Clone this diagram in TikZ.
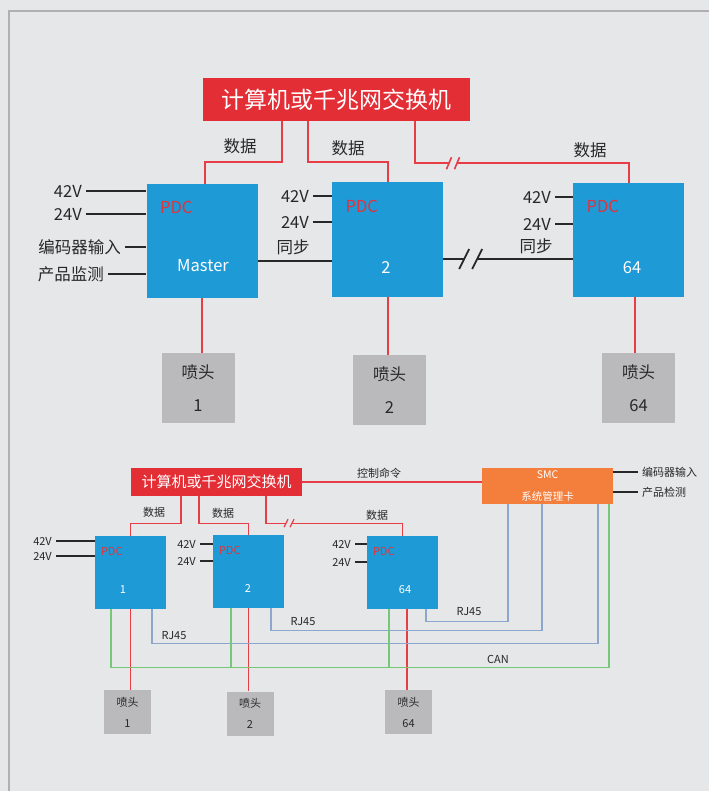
\documentclass[tikz,border=0pt]{standalone}
\usepackage{fontspec}
\setmainfont{Noto Sans CJK SC}
\definecolor{bg}{RGB}{230,231,233}
\definecolor{framegrey}{RGB}{176,176,178}
\definecolor{hostred}{RGB}{227,46,54}
\definecolor{linered}{RGB}{232,60,70}
\definecolor{pdcblue}{RGB}{30,154,214}
\definecolor{pdcred}{RGB}{222,52,62}
\definecolor{smcorange}{RGB}{244,126,60}
\definecolor{nozgrey}{RGB}{186,186,189}
\definecolor{txtdark}{RGB}{40,40,40}
\definecolor{rjblue}{RGB}{140,166,206}
\definecolor{cangreen}{RGB}{118,200,118}
\newcommand\topfont{\fontsize{16.5}{20}\selectfont}
\newcommand\smallfont{\fontsize{11}{13}\selectfont}

\begin{document}
\begin{tikzpicture}[x=1pt,y=-1pt,
        host/.style={fill=hostred,text=white,inner sep=0},
        pdc/.style={fill=pdcblue,inner sep=0},
        smcbox/.style={fill=smcorange,text=white,inner sep=0,align=center},
        nozzle/.style={fill=nozgrey,text=txtdark,inner sep=0,align=center},
        lbl/.style={text=txtdark,inner xsep=4,inner ysep=1},
        pdclbl/.style={text=pdcred,inner sep=0},
        numlbl/.style={text=white,inner sep=0},
        dataline/.style={draw=linered,line width=2},
        wire/.style={draw=txtdark,line width=1.8},
        thinred/.style={draw=linered,line width=1.4},
        rj/.style={draw=rjblue,line width=1.3},
        can/.style={draw=cangreen,line width=1.3},
    ]
    \useasboundingbox[fill=bg] (0,0) rectangle (709,791);
    \draw[framegrey,line width=2.2] (9,791) -- (9,11) -- (709,11); % frame

    % upper diagram
    \node[host,minimum width=267,minimum height=43,font=\fontsize{23}{28}\selectfont] (host) at (336.5,99.5) {计算机或千兆网交换机};
    \foreach \name/\x/\y/\num/\dx/\dy in {master/202/241/Master/1/25, pdcb/387.5/239.5/2/-1.5/28.5, pdcc/628.5/240/64/3.5/28} {
        \node[pdc,minimum width=111,minimum height=114] (\name) at (\x,\y) {};
        \node[pdclbl,font=\topfont] (\name-pdc) at ([shift={(30,24)}]\name.north west) {PDC};
        \node[numlbl,font=\topfont] (\name-num) at ([shift={(\dx,\dy)}]\name.center) {\num};
    }
    \foreach \name/\x/\y/\num in {nza/198/388/1, nzb/389.5/390/2, nzc/638.5/388/64}
        \node[nozzle,minimum width=73,minimum height=70,font=\fontsize{16.5}{33}\selectfont] (\name) at (\x,\y) {喷头\\\num};

    % data links
    \draw[dataline] ([xshift=-54.5pt]host.south) -- ++(0,41) -| ([xshift=3pt]master.north);
    \draw[dataline] ([xshift=-28.5pt]host.south) -- ++(0,41) -| (pdcb.north);
    \draw[dataline] ([xshift=78.5pt]host.south) -- ++(0,42) -- ++(34,0) coordinate (brka)
        ++(8,0) coordinate (brkb) -| (pdcc.north);
    \foreach \c in {brka,brkb} \draw[dataline,line width=1.6] ([shift={(-2.5,6)}]\c) -- ([shift={(2.5,-6)}]\c);
    \foreach \x/\y [count=\i] in {240/146, 348/148, 590/150} \node[lbl,font=\topfont] (data\i) at (\x,\y) {数据};

    % inputs
    \foreach \t/\x/\y/\b [count=\i] in {42V/86/191/master, 24V/86/214/master, 编码器输入/125/247/master,
            产品监测/108/274/master, 42V/313/196/pdcb, 24V/313/222/pdcb, 42V/555/197/pdcc, 24V/555/224/pdcc} {
        \node[lbl,anchor=east,font=\topfont] (in\i) at (\x,\y) {\t};
        \draw[wire] (in\i.east) -- (in\i.east -| \b.west);
    }
    \node[lbl,font=\topfont] (syncA) at (293,247) {同步};
    \node[lbl,font=\topfont] (syncB) at (536,246) {同步};
    \draw[wire] ([yshift=-20pt]master.east) coordinate (sync1) -- (sync1 -| pdcb.west);
    \draw[wire] ([yshift=-19.5pt]pdcb.east) -- ++(21,0) coordinate (brkc) ++(13,0) coordinate (brkd) -- (brkd -| pdcc.west);
    \foreach \c in {brkc,brkd} \draw[wire] ([shift={(-5,10)}]\c) -- ([shift={(5,-10)}]\c);

    % nozzles
    \foreach \a/\b/\dx in {master/nza/0, pdcb/nzb/0, pdcc/nzc/6.5}
        \draw[dataline] ([xshift=\dx pt]\a.south) coordinate (d\a) -- (d\a |- \b.north);

    % lower diagram
    \node[host,minimum width=171,minimum height=28,font=\fontsize{15}{18}\selectfont] (host2) at (216.5,482) {计算机或千兆网交换机};
    \node[smcbox,minimum width=131,minimum height=36,font=\fontsize{10.5}{22}\selectfont] (smc) at (547.5,486) {SMC\\系统管理卡};
    \foreach \name/\x/\y/\num/\dx in {pa/130.5/572.5/1/-7.5, pb/248.5/571.5/2/-0.5, pc/402.5/572.5/64/2.5} {
        \node[pdc,minimum width=71,minimum height=73] (\name) at (\x,\y) {};
        \node[pdclbl,font=\smallfont] (\name-pdc) at ([shift={(17,16)}]\name.north west) {PDC};
        \node[numlbl,font=\smallfont] (\name-num) at ([shift={(\dx,17.5)}]\name.center) {\num};
    }
    \foreach \name/\x/\y/\num in {qa/127.5/712/1, qb/250/713.5/2, qc/408.5/712/64}
        \node[nozzle,minimum width=47,minimum height=44,font=\fontsize{11}{21}\selectfont] (\name) at (\x,\y) {喷头\\\num};

    \draw[thinred] ([xshift=-35.5pt]host2.south) -- ++(0,27) -| (pa.north);
    \draw[thinred] ([xshift=-17.5pt]host2.south) -- ++(0,27) -| (pb.north);
    \draw[thinred] ([xshift=49.5pt]host2.south) -- ++(0,27) -- ++(20,0) coordinate (brke)
        ++(6,0) coordinate (brkf) -| (pc.north);
    \foreach \c in {brke,brkf} \draw[thinred,line width=1.2] ([shift={(-2,4)}]\c) -- ([shift={(2,-4)}]\c);
    \foreach \x/\y [count=\i from 4] in {154/512, 223/513, 377/515} \node[lbl,font=\smallfont] (data\i) at (\x,\y) {数据};

    \draw[thinred] (host2.east) -- (host2.east -| smc.west);
    \node[lbl,font=\smallfont] (cmd) at (379,473) {控制命令};
    \foreach \t/\y [count=\i] in {编码器输入/472, 产品检测/492} {
        \node[lbl,anchor=west,font=\smallfont] (smcin\i) at (638,\y) {\t};
        \draw[wire,line width=1.1] (smcin\i.west) -- (smcin\i.west -| smc.east);
    }
    \foreach \t/\x/\y/\b [count=\i] in {42V/56/541/pa, 24V/56/556/pa, 42V/200/544/pb, 24V/200/561/pb, 42V/355/544/pc, 24V/355/562/pc} {
        \node[lbl,anchor=east,font=\smallfont] (pin\i) at (\x,\y) {\t};
        \draw[wire,line width=1.1] (pin\i.east) -- (pin\i.east -| \b.west);
    }

    % nozzle links
    \foreach \p/\q/\dx in {pa/qa/0, pb/qb/0, pc/qc/4.5}
        \draw[thinred] ([xshift=\dx pt]\p.south) coordinate (e\p) -- (e\p |- \q.north);

    % RJ45
    \draw[rj] ([xshift=21.5pt]pa.south) -- ++(0,34) -| ([xshift=50.5pt]smc.south);
    \draw[rj] ([xshift=22.5pt]pb.south) -- ++(0,22) -| ([xshift=-5.5pt]smc.south);
    \draw[rj] ([xshift=23.5pt]pc.south) -- ++(0,12) -| ([xshift=-39.5pt]smc.south);
    \foreach \x/\y [count=\i] in {174/636, 303/622, 469/612} \node[lbl,font=\smallfont] (rj\i) at (\x,\y) {RJ45};

    % CAN
    \draw[can] ([xshift=-19.5pt]pa.south) -- ++(0,58) -| ([xshift=61.5pt]smc.south);
    \draw[can] ([xshift=-17.5pt]pb.south) -- ++(0,59);
    \draw[can] ([xshift=-13.5pt]pc.south) -- ++(0,58);
    \node[lbl,font=\smallfont] (canlbl) at (498,659) {CAN};
\end{tikzpicture}
\end{document}
